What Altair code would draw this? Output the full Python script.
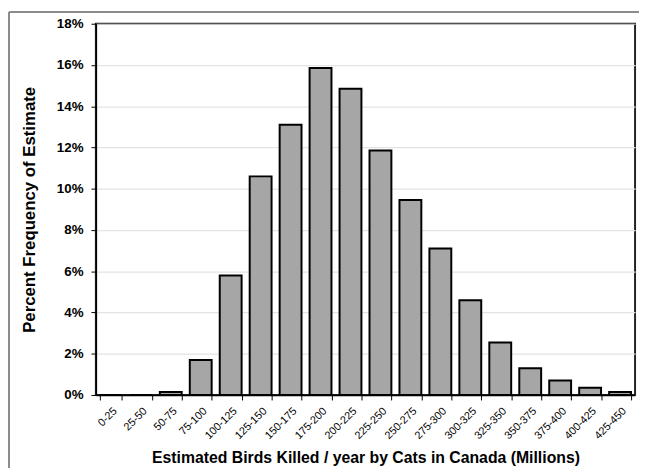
import altair as alt
import pandas as pd

bins = ["0-25", "25-50", "50-75", "75-100", "100-125", "125-150", "150-175",
        "175-200", "200-225", "225-250", "250-275", "275-300", "300-325",
        "325-350", "350-375", "375-400", "400-425", "425-450"]
pct = [0.0, 0.0, 0.15, 1.7, 5.8, 10.6, 13.1, 15.85, 14.85, 11.85, 9.45, 7.1,
       4.6, 2.55, 1.3, 0.7, 0.35, 0.15]

df = pd.DataFrame({"bin": bins, "freq": [p / 100 for p in pct]})

W, H = 546, 376
PL, PT, PR, PB = 89, 13, 4, 74

bars = alt.Chart(df).mark_bar(
    fill="#A6A6A6", stroke="#000000", strokeWidth=2
).encode(
    x=alt.X("bin:N", sort=bins,
            scale=alt.Scale(paddingInner=0.27, paddingOuter=0.135),
            axis=alt.Axis(title="Estimated Birds Killed / year by Cats in Canada (Millions)",
                          labelAngle=-45, labelFontSize=11, labelFont="Arial",
                          labelColor="#000000", tickBand="extent", tickSize=5,
                          tickColor="#000000", domainColor="#000000", domainWidth=1.5,
                          titleFontSize=16, titleFont="Arial", titleFontWeight="bold",
                          titleColor="#000000", titlePadding=9, labelPadding=5)),
    y=alt.Y("freq:Q",
            scale=alt.Scale(domain=[0, 0.18], nice=False),
            axis=alt.Axis(title="Percent Frequency of Estimate", format=".0%",
                          values=[0, 0.02, 0.04, 0.06, 0.08, 0.10, 0.12, 0.14, 0.16, 0.18],
                          labelFontSize=13.5, labelFont="Arial", labelFontWeight="bold",
                          labelColor="#000000", tickSize=5, tickColor="#000000",
                          domainColor="#000000", domainWidth=1.5,
                          gridColor="#E3E3E3", gridWidth=1.2,
                          titleFontSize=17, titleFont="Arial", titleFontWeight="bold",
                          titleColor="#000000", titlePadding=18, labelPadding=8)),
)

frame_left = alt.Chart(df).mark_rule(color="#8C8C8C", strokeWidth=1.5).encode(
    x=alt.value(-PL + 1), y=alt.value(-PT + 1), y2=alt.value(H + PB)
)
frame_top = alt.Chart(df).mark_rule(color="#8C8C8C", strokeWidth=1.5).encode(
    x=alt.value(-PL + 1), x2=alt.value(W + PR), y=alt.value(-PT + 1)
)

chart = alt.layer(frame_left, frame_top, bars).properties(
    width=W, height=H,
    autosize=alt.AutoSizeParams(type="none"),
    padding={"left": PL, "top": PT, "right": PR, "bottom": PB},
).configure_view(
    stroke="#222222", strokeWidth=2
)

chart.save("out.html", embed_options={"renderer": "svg", "actions": False})
